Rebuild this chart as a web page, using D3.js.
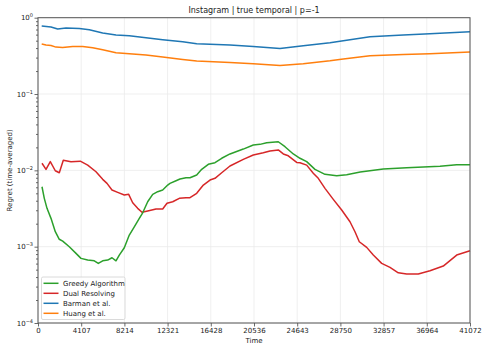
<!DOCTYPE html>
<html>
<head>
<meta charset="utf-8">
<script src="https://cdn.jsdelivr.net/npm/d3@7"></script>
<style>
  body { margin: 0; background: #fff; }
  text { font-family: "DejaVu Sans", sans-serif; fill: #222; }
</style>
</head>
<body>
<script>
// Tick labels on the time axis
const timeTicks = [0, 4107, 8214, 12321, 16428, 20536, 24643, 28750, 32857, 36964, 41072];

// Greedy Algorithm
const greedyT = [380, 599, 856, 1236, 1645, 2025, 2348, 2976, 3613, 4088, 4725, 5352, 5733, 6151, 6626, 7035, 7415, 7729, 8205, 8680, 9155, 9631, 9954, 10429, 10905, 11380, 11855, 12331, 12549, 13120, 13500, 14070, 14451, 15088, 15563, 16191, 16827, 17465, 18253, 19518, 20469, 21105, 21743, 22845, 23482, 24271, 24908, 25545, 26334, 27285, 28398, 29348, 30635, 32828, 35052, 38217, 39805, 41072];
const greedyV = [6.1e-3, 4.3e-3, 3.18e-3, 2.35e-3, 1.57e-3, 1.25e-3, 1.18e-3, 9.97e-4, 8.17e-4, 7.03e-4, 6.67e-4, 6.53e-4, 6.04e-4, 6.53e-4, 6.67e-4, 7.16e-4, 6.53e-4, 7.76e-4, 9.68e-4, 1.42e-3, 1.82e-3, 2.35e-3, 2.78e-3, 3.88e-3, 4.85e-3, 5.25e-3, 5.52e-3, 6.42e-3, 6.76e-3, 7.31e-3, 7.69e-3, 8.0e-3, 8.0e-3, 8.68e-3, 1.03e-2, 1.2e-2, 1.26e-2, 1.44e-2, 1.64e-2, 1.9e-2, 2.15e-2, 2.19e-2, 2.3e-2, 2.37e-2, 2.04e-2, 1.64e-2, 1.44e-2, 1.3e-2, 1.03e-2, 8.87e-3, 8.5e-3, 8.75e-3, 9.5e-3, 1.04e-2, 1.08e-2, 1.13e-2, 1.18e-2, 1.18e-2];

// Dual Resolving
const dualT = [380, 761, 1169, 1645, 2025, 2405, 3137, 4021, 4725, 5514, 6151, 6560, 7035, 7577, 8205, 8623, 9003, 9478, 9887, 10429, 11218, 11855, 12264, 12806, 13433, 14070, 14451, 15088, 15721, 16352, 16827, 17465, 18253, 19518, 20469, 21420, 22057, 22845, 23321, 23796, 24595, 24908, 25545, 26172, 26648, 27285, 28074, 28873, 29662, 30137, 30546, 31250, 31877, 32676, 33465, 34254, 35052, 36155, 37267, 38531, 39805, 41072];
const dualV = [1.24e-2, 1.03e-2, 1.3e-2, 9.88e-3, 9.3e-3, 1.36e-2, 1.3e-2, 1.32e-2, 1.17e-2, 9.59e-3, 7.62e-3, 6.76e-3, 5.52e-3, 5.15e-3, 4.75e-3, 4.85e-3, 3.76e-3, 3.18e-3, 2.82e-3, 2.93e-3, 3.11e-3, 3.11e-3, 3.7e-3, 3.88e-3, 4.3e-3, 4.38e-3, 4.38e-3, 5.0e-3, 6.42e-3, 7.46e-3, 7.86e-3, 9.3e-3, 1.14e-2, 1.39e-2, 1.59e-2, 1.7e-2, 1.79e-2, 1.85e-2, 1.64e-2, 1.55e-2, 1.27e-2, 1.26e-2, 1.17e-2, 9.14e-3, 7.86e-3, 5.81e-3, 4.17e-3, 3.02e-3, 2.12e-3, 1.57e-3, 1.16e-3, 9.79e-4, 7.76e-4, 6.04e-4, 5.35e-4, 4.55e-4, 4.38e-4, 4.38e-4, 4.83e-4, 5.57e-4, 7.76e-4, 8.85e-4];

// Barman et al.
const barmanT = [352, 1236, 1873, 2662, 3926, 4877, 6150, 7416, 8680, 10268, 11855, 13756, 15087, 18253, 20469, 23007, 25222, 27760, 29025, 31563, 34729, 37256, 41072];
const barmanV = [0.778, 0.755, 0.711, 0.732, 0.724, 0.696, 0.63, 0.593, 0.58, 0.547, 0.515, 0.484, 0.456, 0.438, 0.42, 0.395, 0.429, 0.47, 0.499, 0.563, 0.593, 0.617, 0.655];

// Huang et al.
const huangT = [352, 761, 1236, 1701, 2338, 3299, 4250, 5200, 6150, 7416, 8680, 10268, 11855, 13756, 15087, 18253, 20469, 23007, 25222, 27760, 29025, 31563, 34729, 37256, 41072];
const huangV = [0.452, 0.438, 0.433, 0.412, 0.408, 0.42, 0.42, 0.404, 0.38, 0.347, 0.337, 0.324, 0.305, 0.284, 0.27, 0.259, 0.249, 0.237, 0.249, 0.272, 0.287, 0.317, 0.33, 0.337, 0.355];

const seriesNames = ["Greedy Algorithm", "Dual Resolving", "Barman et al.", "Huang et al."];
const seriesColors = ["#2ca02c", "#d62728", "#1f77b4", "#ff7f0e"];
const seriesT = [greedyT, dualT, barmanT, huangT];
const seriesV = [greedyV, dualV, barmanV, huangV];

const WIDTH = 488;
const HEIGHT = 352;
const MARGINS = { top: 17.7, right: 18, bottom: 29, left: 38 };

const svg = d3.select("body").append("svg")
    .attr("width", WIDTH)
    .attr("height", HEIGHT)
    .attr("viewBox", [0, 0, WIDTH, HEIGHT]);

const x = d3.scaleLinear()
    .domain([0, 41072])
    .range([MARGINS.left, WIDTH - MARGINS.right]);
const y = d3.scaleLog()
    .domain([1e-4, 1])
    .range([HEIGHT - MARGINS.bottom, MARGINS.top]);

// Grid
const grid = svg.append("g").attr("stroke", "#ebebeb").attr("stroke-width", 0.8);
timeTicks.forEach(function(t) {
    grid.append("line")
        .attr("x1", x(t)).attr("x2", x(t))
        .attr("y1", y.range()[0]).attr("y2", y.range()[1]);
});
[1e-4, 1e-3, 1e-2, 1e-1, 1].forEach(function(v) {
    grid.append("line")
        .attr("x1", x.range()[0]).attr("x2", x.range()[1])
        .attr("y1", y(v)).attr("y2", y(v));
});

// Lines
const line = d3.line()
    .x(d => x(d[0]))
    .y(d => y(d[1]));
// draw order: keep greedy on top of dual
[2, 3, 1, 0].forEach(function(i) {
    const pts = seriesT[i].map((t, k) => [t, seriesV[i][k]]);
    svg.append("path")
        .datum(pts)
        .attr("d", line)
        .attr("fill", "none")
        .attr("stroke", seriesColors[i])
        .attr("stroke-width", 1.5)
        .attr("stroke-linejoin", "round");
});

// Axes
const xAxis = svg.append("g")
    .attr("transform", `translate(0,${y.range()[0]})`)
    .call(d3.axisBottom(x).tickValues(timeTicks).tickFormat(d => d).tickSize(3.5).tickPadding(2));
xAxis.selectAll("text").style("font-size", "7px");

svg.append("g")
    .attr("transform", `translate(${x.range()[0]},0)`)
    .call(d3.axisLeft(y).tickValues([1e-4, 1e-3, 1e-2, 1e-1, 1]).tickFormat("").tickSize(3.5));

// minor ticks
const minor = [];
for (let e = -4; e < 0; e++) {
    for (let m = 2; m <= 9; m++) minor.push(m * Math.pow(10, e));
}
svg.append("g")
    .attr("transform", `translate(${x.range()[0]},0)`)
    .call(d3.axisLeft(y).tickValues(minor).tickFormat("").tickSize(2));

svg.selectAll(".domain").attr("stroke", "none");
svg.selectAll(".tick line").attr("stroke", "#444").attr("stroke-width", 0.8);

// Y tick labels with superscripts
[0, -1, -2, -3, -4].forEach(function(e) {
    const t = svg.append("text")
        .attr("x", x.range()[0] - 5)
        .attr("y", y(Math.pow(10, e)) + 2.5)
        .attr("text-anchor", "end")
        .style("font-size", "7px");
    t.append("tspan").text("10");
    t.append("tspan")
        .attr("dy", -3)
        .style("font-size", "5px")
        .text(e === 0 ? "0" : "\u2212" + (-e));
});

// Frame
svg.append("rect")
    .attr("x", x.range()[0])
    .attr("y", y.range()[1])
    .attr("width", x.range()[1] - x.range()[0])
    .attr("height", y.range()[0] - y.range()[1])
    .attr("fill", "none")
    .attr("stroke", "#555")
    .attr("stroke-width", 1);

// Title and axis labels
svg.append("text")
    .text("Instagram | true temporal | p=-1")
    .attr("x", (x.range()[0] + x.range()[1]) / 2)
    .attr("y", 13)
    .attr("text-anchor", "middle")
    .style("font-size", "8px");

svg.append("text")
    .text("Time")
    .attr("x", (x.range()[0] + x.range()[1]) / 2)
    .attr("y", 343)
    .attr("text-anchor", "middle")
    .style("font-size", "7px");

svg.append("text")
    .text("Regret (time-averaged)")
    .attr("transform", `translate(12,${(y.range()[0] + y.range()[1]) / 2}) rotate(-90)`)
    .attr("text-anchor", "middle")
    .style("font-size", "7px");

// Legend
const legend = svg.append("g").attr("transform", "translate(41.5,277)");
legend.append("rect")
    .attr("width", 83.5)
    .attr("height", 42.5)
    .attr("rx", 1.5)
    .attr("fill", "#fff")
    .attr("fill-opacity", 0.8)
    .attr("stroke", "#d0d0d0")
    .attr("stroke-width", 0.8);
seriesNames.forEach(function(name, i) {
    const yy = 6.3 + i * 10;
    legend.append("line")
        .attr("x1", 2).attr("x2", 17)
        .attr("y1", yy).attr("y2", yy)
        .attr("stroke", seriesColors[i])
        .attr("stroke-width", 1.5);
    legend.append("text")
        .text(name)
        .attr("x", 21.5)
        .attr("y", yy + 2.5)
        .style("font-size", "7px");
});
</script>
</body>
</html>
